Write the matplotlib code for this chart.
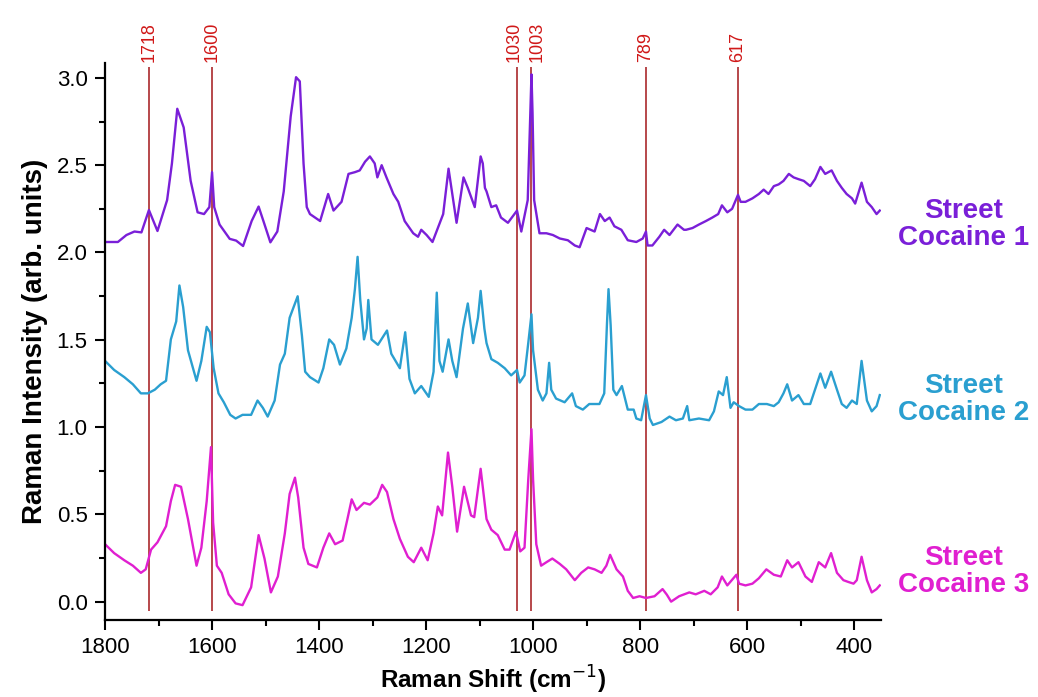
import matplotlib
matplotlib.use("Agg")
import matplotlib.pyplot as plt
from matplotlib.ticker import MultipleLocator, FormatStrFormatter

plt.rcParams['font.family'] = ['Liberation Sans', 'DejaVu Sans']

# Street Cocaine 1 (purple)
shift1 = [1800, 1776, 1760, 1745, 1732, 1718, 1702, 1684, 1675, 1665, 1653, 1640, 1627, 1615, 1605,
          1600, 1596, 1586, 1567, 1555, 1542, 1526, 1513, 1504, 1491, 1478, 1466, 1453, 1443, 1436,
          1429, 1423, 1417, 1398, 1383, 1373, 1358, 1345, 1333, 1324, 1314, 1305, 1296, 1291, 1283,
          1274, 1261, 1252, 1240, 1224, 1215, 1209, 1199, 1188, 1178, 1168, 1158, 1143, 1130, 1122,
          1109, 1098, 1094, 1090, 1087, 1078, 1069, 1060, 1047, 1030, 1022, 1010, 1006, 1003, 1001,
          998, 988, 975, 963, 950, 935, 922, 913, 900, 885, 875, 866, 857, 848, 835, 823, 807, 795,
          789, 786, 777, 764, 755, 745, 730, 718, 714, 702, 690, 677, 665, 654, 647, 637, 628, 617,
          612, 603, 590, 578, 569, 560, 550, 541, 532, 522, 513, 504, 494, 482, 473, 463, 454, 442,
          432, 423, 414, 404, 398, 386, 376, 367, 358, 352]
sc1 = [2.06, 2.06, 2.10, 2.12, 2.115, 2.243, 2.123, 2.30, 2.51, 2.823, 2.716, 2.41, 2.23, 2.22, 2.26,
       2.46, 2.26, 2.16, 2.078, 2.068, 2.037, 2.18, 2.263, 2.18, 2.058, 2.12, 2.35, 2.78, 3.004, 2.98,
       2.51, 2.26, 2.22, 2.18, 2.335, 2.24, 2.29, 2.45, 2.46, 2.47, 2.52, 2.55, 2.51, 2.43, 2.50,
       2.43, 2.335, 2.29, 2.18, 2.11, 2.09, 2.13, 2.10, 2.06, 2.14, 2.22, 2.48, 2.17, 2.43, 2.37,
       2.26, 2.55, 2.51, 2.37, 2.35, 2.26, 2.27, 2.20, 2.17, 2.24, 2.12, 2.30, 2.70, 3.02, 2.80,
       2.30, 2.11, 2.11, 2.10, 2.08, 2.07, 2.04, 2.03, 2.14, 2.12, 2.22, 2.18, 2.20, 2.15, 2.13, 2.07, 2.06, 2.08,
       2.12, 2.04, 2.04, 2.09, 2.13, 2.10, 2.16, 2.13, 2.13, 2.14, 2.16, 2.18, 2.20, 2.22, 2.27, 2.23, 2.25, 2.33,
       2.29, 2.29, 2.31, 2.335, 2.36, 2.335, 2.38, 2.39, 2.41, 2.45, 2.43, 2.42, 2.41, 2.38, 2.42, 2.49, 2.45, 2.47,
       2.41, 2.37, 2.335, 2.31, 2.28, 2.40, 2.29, 2.26, 2.22, 2.24]

# Street Cocaine 2 (cyan)
shift2 = [1800, 1783, 1764, 1748, 1733, 1720, 1707, 1696, 1686, 1677, 1667, 1661, 1654, 1645, 1629,
          1620, 1610, 1604, 1597, 1588, 1578, 1566, 1556, 1543, 1527, 1515, 1505, 1496, 1483, 1473,
          1464, 1455, 1445, 1440, 1432, 1426, 1417, 1401, 1392, 1381, 1372, 1361, 1349, 1339, 1333,
          1328, 1323, 1316, 1311, 1308, 1302, 1290, 1273, 1265, 1249, 1239, 1231, 1221, 1209, 1195,
          1186, 1180, 1175, 1169, 1158, 1151, 1143, 1131, 1122, 1112, 1103, 1098, 1091, 1087, 1078,
          1066, 1053, 1041, 1030, 1025, 1016, 1009, 1003, 1000, 991, 982, 975, 970, 966, 957, 941,
          927, 920, 907, 895, 876, 867, 862, 859, 855, 850, 844, 834, 823, 812, 807, 798, 789, 782,
          776, 760, 745, 733, 720, 712, 708, 690, 671, 662, 653, 645, 638, 631, 625, 615, 603, 590,
          578, 563, 550, 541, 532, 525, 516, 504, 494, 482, 473, 463, 454, 443, 432, 423, 414, 404,
          395, 386, 376, 367, 358, 352]
sc2 = [1.379, 1.327, 1.286, 1.245, 1.193, 1.193, 1.214, 1.245, 1.265, 1.502, 1.605, 1.811, 1.687, 1.44, 1.265,
       1.379, 1.574, 1.543, 1.337, 1.193, 1.142, 1.07, 1.049, 1.07, 1.07, 1.152, 1.11, 1.06, 1.152, 1.358,
       1.42, 1.626, 1.708, 1.749, 1.523, 1.317, 1.286, 1.255, 1.337, 1.502, 1.471, 1.358, 1.45, 1.626, 1.79,
       1.975, 1.728, 1.502, 1.564, 1.728, 1.502, 1.471, 1.553, 1.42, 1.337, 1.543, 1.276, 1.193, 1.235, 1.173,
       1.317, 1.77, 1.379, 1.317, 1.502, 1.379, 1.286, 1.564, 1.708, 1.481, 1.626, 1.78, 1.564, 1.481, 1.389,
       1.368, 1.337, 1.296, 1.327, 1.255, 1.296, 1.481, 1.646, 1.44, 1.214, 1.152, 1.193, 1.368, 1.214, 1.163, 1.142,
       1.193, 1.12, 1.10, 1.132, 1.132, 1.193, 1.584, 1.79, 1.584, 1.214, 1.183, 1.235, 1.10, 1.10, 1.049, 1.039, 1.183, 1.049,
       1.012, 1.029, 1.06, 1.039, 1.049, 1.12, 1.039, 1.049, 1.039, 1.09, 1.204, 1.183, 1.286, 1.11, 1.142, 1.12, 1.10, 1.10,
       1.132, 1.132, 1.12, 1.142, 1.193, 1.245, 1.152, 1.183, 1.132, 1.132, 1.214, 1.307, 1.225, 1.317, 1.214, 1.132, 1.11, 1.152,
       1.132, 1.379, 1.152, 1.09, 1.12, 1.183]

# Street Cocaine 3 (magenta)
shift3 = [1800, 1783, 1764, 1748, 1733, 1724, 1714, 1702, 1686, 1677, 1669, 1658, 1645, 1629, 1620,
          1610, 1602, 1598, 1591, 1582, 1569, 1556, 1543, 1527, 1513, 1502, 1490, 1477, 1464, 1455,
          1445, 1439, 1429, 1420, 1404, 1392, 1381, 1370, 1356, 1347, 1339, 1330, 1316, 1305, 1291,
          1282, 1273, 1261, 1249, 1234, 1223, 1209, 1197, 1186, 1178, 1170, 1159, 1151, 1142, 1129,
          1116, 1110, 1098, 1094, 1087, 1078, 1066, 1053, 1044, 1032, 1024, 1016, 1009, 1003, 1000,
          994, 985, 975, 964, 950, 938, 922, 910, 897, 885, 872, 863, 856, 844, 832, 823, 813, 801,
          789, 773, 758, 750, 742, 727, 708, 696, 680, 668, 655, 647, 637, 620, 615, 603, 590, 578,
          564, 550, 537, 525, 516, 504, 491, 479, 466, 454, 443, 432, 420, 411, 401, 395, 386, 376,
          367, 358, 352]
sc3 = [0.329, 0.278, 0.237, 0.206, 0.165, 0.185, 0.298, 0.34, 0.432, 0.576, 0.669, 0.658, 0.473, 0.206, 0.309,
       0.576, 0.885, 0.453, 0.206, 0.165, 0.042, -0.01, -0.02, 0.082, 0.381, 0.247, 0.053, 0.144, 0.391, 0.617,
       0.71, 0.597, 0.309, 0.216, 0.196, 0.309, 0.391, 0.329, 0.35, 0.473, 0.586, 0.525, 0.566, 0.556, 0.597,
       0.669, 0.628, 0.473, 0.36, 0.257, 0.226, 0.309, 0.237, 0.391, 0.545, 0.494, 0.854, 0.658, 0.401, 0.658,
       0.494, 0.484, 0.761, 0.658, 0.473, 0.412, 0.381, 0.298, 0.298, 0.40, 0.288, 0.309, 0.70, 0.988, 0.70,
       0.329, 0.206, 0.226, 0.247, 0.216, 0.185, 0.123, 0.165, 0.196, 0.185, 0.165, 0.206, 0.268, 0.185, 0.144, 0.062, 0.021, 0.031,
       0.021, 0.031, 0.072, 0.04, 0.0, 0.031, 0.053, 0.042, 0.062, 0.042, 0.082, 0.144, 0.093, 0.154, 0.103, 0.093, 0.103, 0.134,
       0.185, 0.154, 0.144, 0.237, 0.196, 0.226, 0.144, 0.113, 0.226, 0.196, 0.278, 0.165, 0.123, 0.113, 0.103, 0.123, 0.257, 0.123,
       0.053, 0.072, 0.093]

peaks = [1718, 1600, 1030, 1003, 789, 617]
names = ["Street\nCocaine 1", "Street\nCocaine 2", "Street\nCocaine 3"]
label_y = [2.16, 1.155, 0.175]
colors = ["#7a1fd8", "#2a9fd0", "#e01fd0"]

fig = plt.figure(figsize=(10.38, 6.97), dpi=100)
ax = fig.add_axes([0.1012, 0.1105, 0.7474, 0.7993])

ax.vlines(peaks, -0.052, 3.062, color="#a3161a", lw=1.1, zorder=1)
for p in peaks:
    # the two close labels are nudged apart a little, as in the original
    dx = {1030: -2, 1003: 4}.get(p, 0)
    ax.annotate(str(p), xy=(p, 3.09), xytext=(dx, 0), textcoords="offset points",
                rotation=90, ha="center", va="bottom", color="#d01818",
                fontsize=13, annotation_clip=False)

for xs, ys, c in zip([shift1, shift2, shift3], [sc1, sc2, sc3], colors):
    ax.plot(xs, ys, color=c, lw=1.7, zorder=2)

for name, yy, c in zip(names, label_y, colors):
    ax.text(196, yy, name, color=c, fontsize=20, fontweight="bold",
            ha="center", va="center", linespacing=1.05)

ax.set_xlim(1800, 350)
ax.set_ylim(-0.105, 3.086)
ax.xaxis.set_major_locator(MultipleLocator(200))
ax.xaxis.set_minor_locator(MultipleLocator(100))
ax.yaxis.set_major_locator(MultipleLocator(0.5))
ax.yaxis.set_minor_locator(MultipleLocator(0.25))
ax.yaxis.set_major_formatter(FormatStrFormatter("%.1f"))
ax.tick_params(which="major", direction="out", length=7.5, width=1.5, labelsize=16, pad=5)
ax.tick_params(which="minor", direction="out", length=4, width=1.5)

for s in ["top", "right"]:
    ax.spines[s].set_visible(False)
for s in ["left", "bottom"]:
    ax.spines[s].set_linewidth(1.6)

ax.set_xlabel("Raman Shift (cm$^{-1}$)", fontsize=17.5, fontweight="bold", labelpad=4)
ax.set_ylabel("Raman Intensity (arb. units)", fontsize=20, fontweight="bold", labelpad=6)

fig.savefig("out.png", dpi=100)
